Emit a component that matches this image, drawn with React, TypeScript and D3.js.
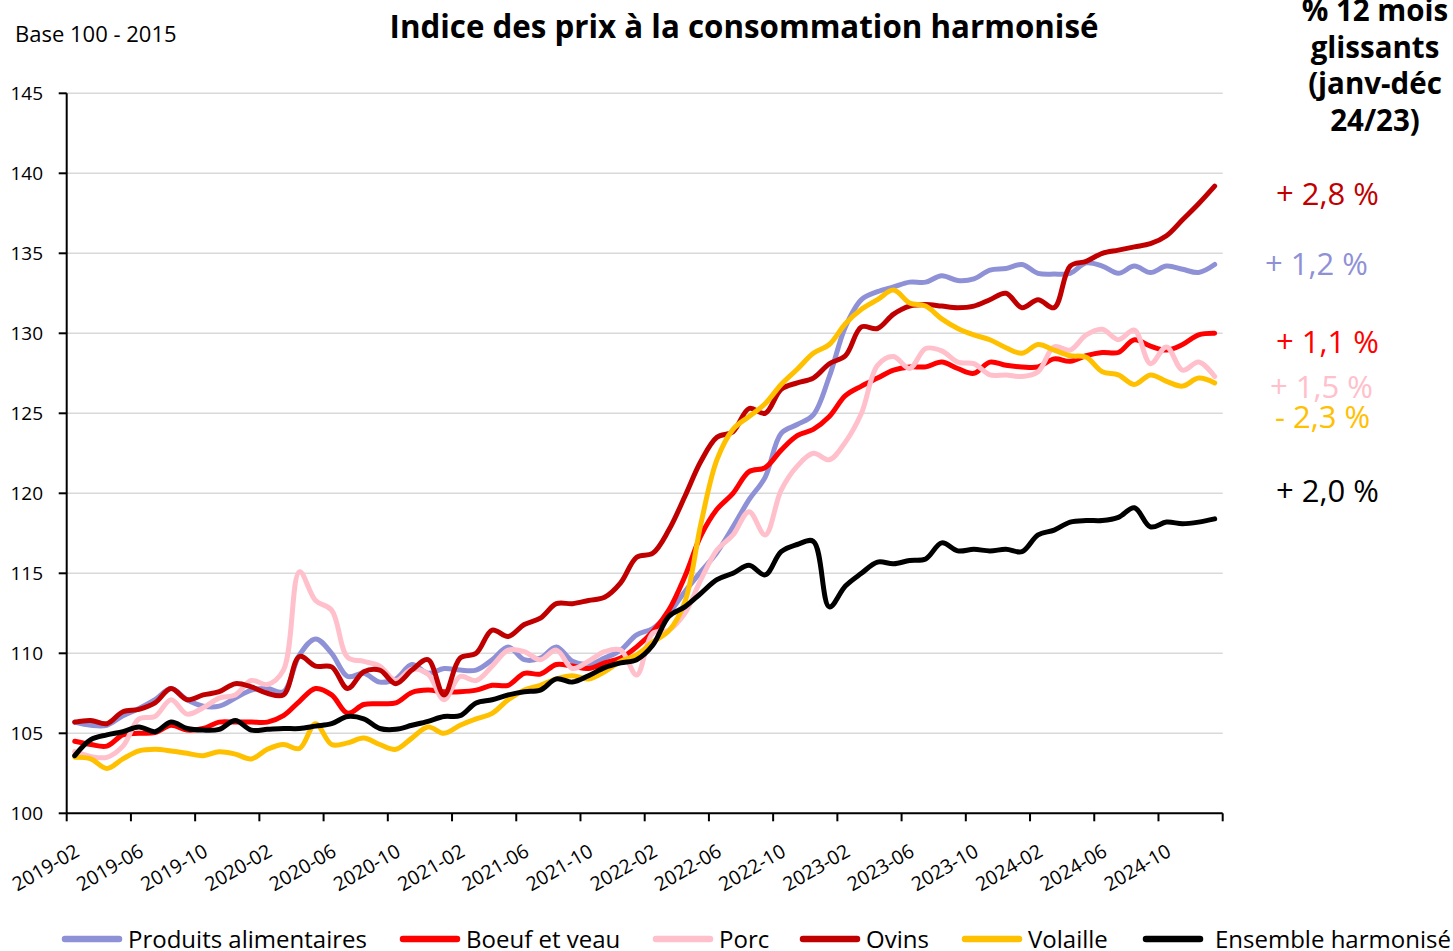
import * as d3 from 'd3';
import { useEffect, useRef } from 'react';

// monthly categories 2019-02 .. 2025-01 (72 points)
const months = d3.utcMonth
  .range(new Date(Date.UTC(2019, 1, 1)), new Date(Date.UTC(2025, 1, 1)))
  .map(d3.utcFormat('%Y-%m'));

const yTicks = [100, 105, 110, 115, 120, 125, 130, 135, 140, 145];

const produits = [
  105.7, 105.5, 105.5, 106.1, 106.55, 107.1, 107.8, 107.1, 106.7, 106.7, 107.2, 107.7, 107.8, 107.6, 109.9, 110.9, 110.0, 108.55, 108.75, 108.2, 108.4, 109.3, 108.75, 109.05,
  108.95, 108.95, 109.6, 110.4, 109.6, 109.7, 110.4, 109.5, 109.3, 109.7, 110.2, 111.15, 111.55, 112.5, 113.85, 115.1, 116.3, 117.9, 119.6, 121.0, 123.75, 124.3, 124.9, 127.3,
  130.4, 132.1, 132.6, 132.9, 133.2, 133.2, 133.6, 133.3, 133.4, 133.95, 134.05, 134.3, 133.75, 133.7, 133.75, 134.4, 134.2, 133.75, 134.2, 133.8, 134.2, 134.0, 133.8, 134.3,
];
const boeuf = [
  104.5, 104.3, 104.2, 104.9, 105.0, 105.05, 105.5, 105.2, 105.3, 105.7, 105.7, 105.7, 105.7, 106.1, 107.0, 107.8, 107.4, 106.25, 106.8, 106.85, 106.9, 107.55, 107.7, 107.6,
  107.6, 107.7, 108.0, 108.0, 108.75, 108.7, 109.3, 109.2, 109.05, 109.4, 109.7, 110.4, 111.35, 112.7, 114.8, 117.35, 119.0, 120.0, 121.35, 121.6, 122.7, 123.6, 124.0, 124.8,
  126.1, 126.7, 127.2, 127.7, 127.9, 127.9, 128.2, 127.8, 127.5, 128.2, 128.0, 127.9, 127.9, 128.4, 128.25, 128.6, 128.8, 128.8, 129.6, 129.2, 128.95, 129.3, 129.9, 130.0,
];
const porc = [
  103.85, 103.55, 103.5, 104.2, 105.9, 106.05, 107.1, 106.2, 106.6, 107.2, 107.4, 108.3, 108.05, 108.95, 115.1, 113.3, 112.7, 109.75, 109.5, 109.2, 108.3, 109.0, 108.7, 107.1,
  108.55, 108.3, 109.2, 110.2, 110.1, 109.6, 110.2, 109.05, 109.5, 110.1, 110.2, 108.65, 111.25, 111.45, 112.5, 114.6, 116.45, 117.4, 118.85, 117.4, 120.2, 121.7, 122.5, 122.1,
  123.2, 125.0, 128.0, 128.55, 127.8, 129.05, 128.9, 128.2, 128.1, 127.4, 127.4, 127.3, 127.6, 129.15, 128.95, 129.9, 130.25, 129.6, 130.2, 128.1, 129.15, 127.7, 128.2, 127.3,
];
const ovins = [
  105.7, 105.8, 105.6, 106.35, 106.5, 106.9, 107.8, 107.1, 107.4, 107.6, 108.1, 107.9, 107.5, 107.4, 109.8, 109.2, 109.15, 107.8, 108.85, 108.95, 108.1, 108.95, 109.6, 107.4,
  109.7, 110.0, 111.45, 111.05, 111.8, 112.2, 113.1, 113.1, 113.3, 113.5, 114.4, 116.0, 116.25, 117.7, 119.8, 122.0, 123.5, 123.85, 125.3, 125.0, 126.5, 126.9, 127.2, 128.1,
  128.6, 130.4, 130.3, 131.2, 131.7, 131.8, 131.7, 131.6, 131.7, 132.1, 132.5, 131.6, 132.1, 131.6, 134.2, 134.5, 135.0, 135.2, 135.4, 135.6, 136.1, 137.1, 138.1, 139.2,
];
const volaille = [
  103.5, 103.4, 102.8, 103.4, 103.9, 104.0, 103.9, 103.75, 103.6, 103.85, 103.7, 103.4, 104.0, 104.3, 104.05, 105.6, 104.3, 104.4, 104.7, 104.3, 104.0, 104.7, 105.4, 105.0,
  105.5, 105.9, 106.25, 107.1, 107.7, 108.0, 108.4, 108.6, 108.4, 108.85, 109.5, 109.9, 110.7, 111.4, 113.2, 118.1, 122.1, 124.0, 124.8, 125.6, 126.8, 127.75, 128.75, 129.3,
  130.6, 131.5, 132.1, 132.7, 131.9, 131.7, 130.9, 130.3, 129.9, 129.6, 129.1, 128.75, 129.3, 128.95, 128.6, 128.5, 127.6, 127.4, 126.8, 127.4, 127.0, 126.7, 127.2, 126.9,
];
const ensemble = [
  103.6, 104.6, 104.9, 105.1, 105.4, 105.1, 105.7, 105.3, 105.2, 105.25, 105.8, 105.2, 105.25, 105.3, 105.3, 105.45, 105.6, 106.05, 105.9, 105.3, 105.25, 105.5, 105.75, 106.05,
  106.1, 106.9, 107.1, 107.4, 107.6, 107.7, 108.4, 108.2, 108.6, 109.1, 109.4, 109.6, 110.5, 112.3, 112.9, 113.75, 114.6, 115.0, 115.5, 114.9, 116.35, 116.8, 117.0, 112.9,
  114.2, 115.0, 115.7, 115.6, 115.8, 115.9, 116.9, 116.4, 116.5, 116.4, 116.5, 116.35, 117.4, 117.7, 118.2, 118.3, 118.3, 118.5, 119.1, 117.9, 118.2, 118.1, 118.2, 118.4,
];

const seriesNames = ['Produits alimentaires', 'Boeuf et veau', 'Porc', 'Ovins', 'Volaille', 'Ensemble harmonisé'];
const seriesColors = ['#8F91D6', '#FF0000', '#FFC0CB', '#C00000', '#FFC000', '#000000'];
const seriesValues = [produits, boeuf, porc, ovins, volaille, ensemble];

// 12-month change labels on the right
const changeLabels = ['+ 2,8 %', '+ 1,2 %', '+ 1,1 %', '+ 1,5 %', '- 2,3 %', '+ 2,0 %'];
const changeColors = ['#C00000', '#8F91D6', '#FF0000', '#FFC0CB', '#FFC000', '#000000'];
const headerLines = ['% 12 mois', 'glissants', '(janv-déc', '24/23)'];

const FONT = "'Open Sans', Lato, sans-serif";

const App = () => {
  const ref = useRef(null);

  useEffect(() => {
    const svg = d3.select(ref.current);
    svg.selectAll('*').remove();

    const width = 1453;
    const height = 951;
    const margin = { top: 93.3, right: 230.3, bottom: 137.7, left: 66.7 };

    const x = d3.scaleBand().domain(months).range([margin.left, width - margin.right]).padding(0);
    const y = d3.scaleLinear().domain([100, 145]).range([height - margin.bottom, margin.top]);
    const cx = (m) => x(m) + x.bandwidth() / 2;

    svg.attr('width', width).attr('height', height).style('font-family', FONT);

    // gridlines
    svg.append('g')
      .selectAll('line')
      .data(yTicks.filter(t => t > 100))
      .enter()
      .append('line')
      .attr('x1', margin.left)
      .attr('x2', width - margin.right)
      .attr('y1', d => y(d))
      .attr('y2', d => y(d))
      .attr('stroke', '#D9D9D9')
      .attr('stroke-width', 1.5);

    // lines
    const line = d3.line()
      .x((d, i) => cx(months[i]))
      .y(d => y(d))
      .curve(d3.curveCatmullRom.alpha(0.5));

    seriesValues.forEach((vals, k) => {
      svg.append('path')
        .datum(vals)
        .attr('d', line)
        .attr('fill', 'none')
        .attr('stroke', seriesColors[k])
        .attr('stroke-width', 5)
        .attr('stroke-linejoin', 'round')
        .attr('stroke-linecap', 'round');
    });

    // y axis
    const yAxis = svg.append('g');
    yAxis.append('line')
      .attr('x1', margin.left).attr('x2', margin.left)
      .attr('y1', y(145)).attr('y2', y(100))
      .attr('stroke', '#000').attr('stroke-width', 2);
    yTicks.forEach(t => {
      yAxis.append('line')
        .attr('x1', margin.left - 8).attr('x2', margin.left)
        .attr('y1', y(t)).attr('y2', y(t))
        .attr('stroke', '#000').attr('stroke-width', 2);
      yAxis.append('text')
        .attr('x', 43)
        .attr('y', y(t))
        .attr('dy', '0.36em')
        .attr('text-anchor', 'end')
        .style('font-size', '19px')
        .text(t);
    });

    // x axis
    const xAxis = svg.append('g');
    xAxis.append('line')
      .attr('x1', margin.left).attr('x2', width - margin.right)
      .attr('y1', y(100)).attr('y2', y(100))
      .attr('stroke', '#000').attr('stroke-width', 2);
    const tickMonths = months.filter((m, i) => i % 4 === 0);
    [...tickMonths.map(m => x(m)), width - margin.right].forEach(px => {
      xAxis.append('line')
        .attr('x1', px).attr('x2', px)
        .attr('y1', y(100)).attr('y2', y(100) + 8)
        .attr('stroke', '#000').attr('stroke-width', 2);
    });
    tickMonths.forEach(m => {
      xAxis.append('text')
        .attr('transform', `translate(${cx(m) - 1}, 843) rotate(-30)`)
        .attr('text-anchor', 'end')
        .attr('dy', '0.72em')
        .style('font-size', '19.5px')
        .text(m);
    });

    // titles
    svg.append('text')
      .attr('x', 15).attr('y', 42)
      .style('font-size', '22px')
      .text('Base 100 - 2015');

    svg.append('text')
      .attr('x', 744).attr('y', 38)
      .attr('text-anchor', 'middle')
      .style('font-size', '31.3px')
      .style('font-weight', 'bold')
      .text('Indice des prix à la consommation harmonisé');

    headerLines.forEach((t, i) => {
      svg.append('text')
        .attr('x', 1375).attr('y', 21 + i * 36.7)
        .attr('text-anchor', 'middle')
        .style('font-size', '29.5px')
        .style('font-weight', 'bold')
        .text(t);
    });

    const changeX = [1276, 1265, 1276, 1270, 1275, 1276];
    const changeY = [205, 275, 353, 398, 428, 502];
    changeLabels.forEach((t, i) => {
      svg.append('text')
        .attr('x', changeX[i]).attr('y', changeY[i])
        .attr('fill', changeColors[i])
        .style('font-size', '31px')
        .text(t);
    });

    // legend
    const legendX = [62, 400, 653, 800, 962, 1143];
    const legend = svg.append('g').attr('transform', 'translate(0, 939)');
    seriesNames.forEach((name, i) => {
      legend.append('line')
        .attr('x1', legendX[i] + 3).attr('x2', legendX[i] + 57)
        .attr('y1', 0).attr('y2', 0)
        .attr('stroke', seriesColors[i])
        .attr('stroke-width', 6.5)
        .attr('stroke-linecap', 'round');
      legend.append('text')
        .attr('x', legendX[i] + (i === 5 ? 72 : 66))
        .attr('y', 9)
        .style('font-size', '24px')
        .text(name);
    });
  }, []);

  return (
    <svg ref={ref} width="1453" height="951" style={{ position: 'absolute', left: 0, top: 0, background: '#fff' }}></svg>
  );
};

export default App;
